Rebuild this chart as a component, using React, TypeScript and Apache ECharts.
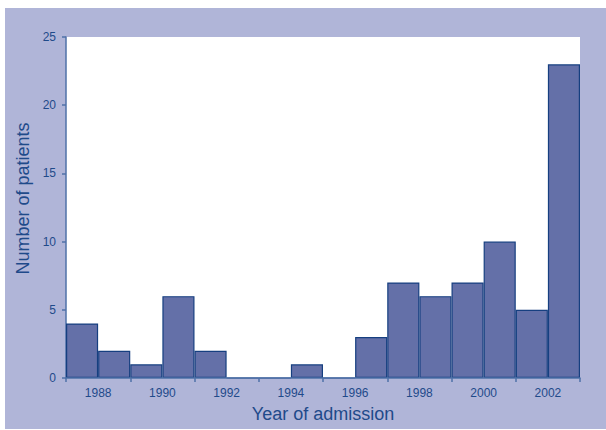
import React, { useEffect, useRef } from "react";
import * as echarts from "echarts";

const years = ["1987", "1988", "1989", "1990", "1991", "1992", "1993", "1994", "1995", "1996", "1997", "1998", "1999", "2000", "2001", "2002"];
const patients = [4, 2, 1, 6, 2, 0, 0, 1, 0, 3, 7, 6, 7, 10, 5, 23];
const boundaryYears = ["1987", "1988", "1989", "1990", "1991", "1992", "1993", "1994", "1995", "1996", "1997", "1998", "1999", "2000", "2001", "2002", "2003"];
const yMin = 0;
const yMax = 25;
const yStep = 5;

const textColor = "#1f4a8a";
const axisColor = "#4f72a8";
const fontFamily = "'Liberation Sans', Arial, sans-serif";

export default function App() {
  const ref = useRef<HTMLDivElement>(null);
  useEffect(() => {
    document.body.style.margin = "0";
    const chart = echarts.init(ref.current!, null, { renderer: "svg" });
    chart.setOption({
      animation: false,
      backgroundColor: "#ffffff",
      graphic: [
        {
          type: "rect",
          z: -10,
          silent: true,
          shape: { x: 5, y: 8, width: 601, height: 421 },
          style: { fill: "#b0b5d8" },
        },
        {
          type: "rect",
          z: -9,
          silent: true,
          shape: { x: 66, y: 37, width: 514, height: 341 },
          style: { fill: "#ffffff" },
        },
      ],
      grid: { left: 66, top: 37, right: 26, bottom: 52, containLabel: false },
      xAxis: [
        {
          type: "category",
          data: years,
          boundaryGap: true,
          axisLine: { lineStyle: { color: axisColor, width: 1.5 } },
          axisTick: { show: true, interval: 1, length: 4, lineStyle: { color: axisColor, width: 1.5 } },
          axisLabel: { show: false },
          splitLine: { show: false },
          z: 5,
        },
        {
          type: "category",
          data: boundaryYears,
          boundaryGap: false,
          position: "bottom",
          axisLine: { show: false },
          axisTick: { show: false },
          splitLine: { show: false },
          axisLabel: {
            interval: (i: number) => i % 2 === 1,
            color: textColor,
            fontSize: 12,
            fontFamily,
            margin: 9,
          },
          name: "Year of admission",
          nameLocation: "middle",
          nameGap: 27,
          nameTextStyle: { color: textColor, fontSize: 18, fontFamily },
        },
      ],
      yAxis: {
        type: "value",
        min: yMin,
        max: yMax,
        interval: yStep,
        axisLine: { show: true, lineStyle: { color: axisColor, width: 1.5 } },
        axisTick: { show: true, length: 4, lineStyle: { color: axisColor, width: 1.5 } },
        axisLabel: { color: textColor, fontSize: 12, fontFamily, margin: 10 },
        splitLine: { show: false },
        name: "Number of patients",
        nameLocation: "middle",
        nameGap: 33,
        nameTextStyle: { color: textColor, fontSize: 18, fontFamily, padding: [0, 0, 0, 18] },
      },
      series: [
        {
          type: "bar",
          xAxisIndex: 0,
          data: patients,
          barCategoryGap: "0%",
          itemStyle: { color: "#6470a8", borderColor: "#163f80", borderWidth: 1.2 },
        },
      ],
    });
    return () => chart.dispose();
  }, []);
  return <div ref={ref} style={{ position: "absolute", left: 0, top: 0, width: 606, height: 430 }} />;
}
